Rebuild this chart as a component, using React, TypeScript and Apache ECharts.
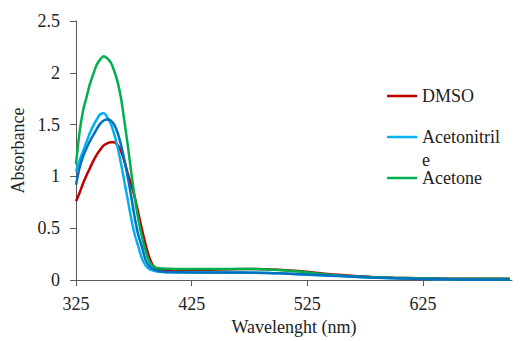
import React, { useEffect, useRef } from "react";
import * as echarts from "echarts";

const wavelengths = [325, 328, 331, 334, 337, 340, 343, 346, 349, 352, 355, 358, 361, 364, 367, 370, 373, 376, 379, 382, 385, 388, 391, 394, 397, 400, 405, 410, 420, 440, 460, 480, 500, 520, 540, 560, 580, 600, 620, 640, 660, 680, 700];

const dmso = [0.76, 0.84, 0.93, 1.01, 1.08, 1.15, 1.21, 1.26, 1.3, 1.32, 1.33, 1.33, 1.3, 1.24, 1.14, 1.02, 0.91, 0.79, 0.64, 0.49, 0.35, 0.23, 0.15, 0.115, 0.1, 0.095, 0.092, 0.092, 0.095, 0.1, 0.105, 0.107, 0.1, 0.085, 0.062, 0.045, 0.03, 0.022, 0.017, 0.015, 0.013, 0.012, 0.012];

const acetonitrile = [1.05, 1.15, 1.24, 1.33, 1.42, 1.49, 1.55, 1.6, 1.61, 1.57, 1.51, 1.41, 1.28, 1.12, 0.94, 0.76, 0.58, 0.43, 0.32, 0.21, 0.145, 0.11, 0.095, 0.085, 0.08, 0.078, 0.076, 0.075, 0.074, 0.073, 0.072, 0.07, 0.065, 0.055, 0.045, 0.035, 0.025, 0.018, 0.012, 0.009, 0.007, 0.006, 0.005];

const acetone = [1.12, 1.42, 1.63, 1.76, 1.89, 1.99, 2.08, 2.13, 2.16, 2.14, 2.1, 2.02, 1.91, 1.75, 1.52, 1.28, 1.02, 0.78, 0.58, 0.42, 0.29, 0.19, 0.14, 0.12, 0.115, 0.112, 0.11, 0.108, 0.107, 0.107, 0.108, 0.106, 0.097, 0.08, 0.057, 0.04, 0.03, 0.022, 0.017, 0.014, 0.013, 0.013, 0.013];

const sample4 = [0.92, 1.08, 1.19, 1.27, 1.34, 1.4, 1.46, 1.51, 1.54, 1.55, 1.54, 1.5, 1.42, 1.3, 1.15, 0.98, 0.79, 0.59, 0.43, 0.32, 0.2, 0.14, 0.11, 0.095, 0.085, 0.08, 0.077, 0.076, 0.075, 0.074, 0.073, 0.071, 0.066, 0.056, 0.046, 0.036, 0.026, 0.019, 0.013, 0.01, 0.008, 0.006, 0.005];

const xTicks = [325, 425, 525, 625];
const legendNames = ["DMSO", "Acetonitrile", "Acetone"];

const FONT = "Liberation Serif";
const TXT = "#222";
const AX = "#595959";

const pair = (ys: number[]) => wavelengths.map((x, i) => [x, ys[i]]);

export default function App() {
  const ref = useRef<HTMLDivElement>(null);
  useEffect(() => {
    document.body.style.margin = "0";
    const chart = echarts.init(ref.current!, null, { renderer: "svg" });
    const mkSeries = (name: string, ys: number[], color: string) => ({
      name,
      type: "line",
      data: pair(ys),
      smooth: 0.3,
      showSymbol: false,
      lineStyle: { color, width: 2.5 },
      itemStyle: { color },
    });
    const legendBase = {
      orient: "vertical",
      left: 387,
      padding: 0,
      icon: "rect",
      itemWidth: 30,
      itemHeight: 2.5,
      selectedMode: false,
      textStyle: { fontFamily: FONT, fontSize: 18, color: TXT, lineHeight: 18 },
    };
    chart.setOption({
      animation: false,
      textStyle: { fontFamily: FONT },
      grid: { left: 76, right: 20, top: 21, bottom: 55 },
      legend: [
        { ...legendBase, top: 87, data: [legendNames[0]] },
        { ...legendBase, top: 128, data: [legendNames[1]], formatter: "Acetonitril" },
        { ...legendBase, top: 169, data: [legendNames[2]] },
      ],
      graphic: [
        {
          type: "text",
          x: 422,
          y: 160,
          style: { text: "e", fontFamily: FONT, fontSize: 18, lineHeight: 16, fill: TXT, verticalAlign: "middle" },
        },
      ],
      xAxis: {
        type: "value",
        min: 325,
        max: 702,
        interval: 100,
        name: "Wavelenght (nm)",
        nameLocation: "middle",
        nameGap: 37,
        nameTextStyle: { fontFamily: FONT, fontSize: 18, color: TXT },
        axisLine: { lineStyle: { color: AX, width: 1 } },
        axisTick: { show: true, length: 6, lineStyle: { color: AX }, customValues: xTicks },
        axisLabel: { fontFamily: FONT, fontSize: 18, color: TXT, margin: 15, customValues: xTicks },
        splitLine: { show: false },
      },
      yAxis: {
        type: "value",
        min: 0,
        max: 2.5,
        interval: 0.5,
        name: "Absorbance",
        nameLocation: "middle",
        nameGap: 48,
        nameTextStyle: { fontFamily: FONT, fontSize: 18, color: TXT },
        axisLine: { show: true, lineStyle: { color: AX, width: 1 } },
        axisTick: { show: true, length: 6, lineStyle: { color: AX } },
        axisLabel: { fontFamily: FONT, fontSize: 18, color: TXT, margin: 16 },
        splitLine: { show: false },
      },
      series: [
        mkSeries("DMSO", dmso, "#C00000"),
        mkSeries("Acetonitrile", acetonitrile, "#00B0F0"),
        mkSeries("Acetone", acetone, "#00B050"),
        mkSeries("Sample 4", sample4, "#0070C0"),
      ],
    });
    return () => chart.dispose();
  }, []);
  return (
    <>
      <style>{`#root svg text { font-family: "Liberation Serif", "Times New Roman", serif !important; }`}</style>
      <div ref={ref} style={{ width: 532, height: 341, fontFamily: "Liberation Serif, serif" }} />
    </>
  );
}
